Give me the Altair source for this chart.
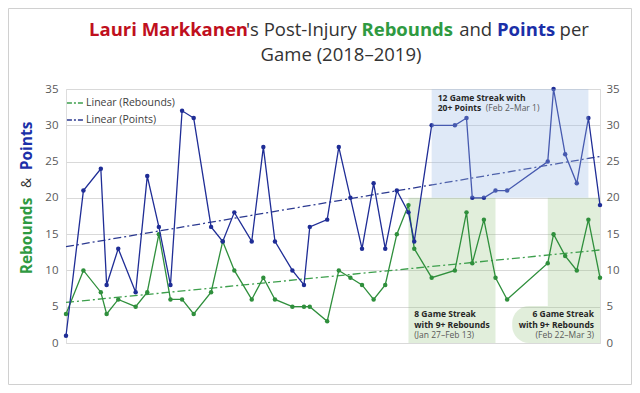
import altair as alt
import pandas as pd
import numpy as np

# ---------------- data ----------------
dates = ["2018-12-01", "2018-12-04", "2018-12-07", "2018-12-08", "2018-12-10", "2018-12-13",
         "2018-12-15", "2018-12-17", "2018-12-19", "2018-12-21", "2018-12-23", "2018-12-26",
         "2018-12-28", "2018-12-30", "2019-01-02", "2019-01-04", "2019-01-06", "2019-01-09",
         "2019-01-11", "2019-01-12", "2019-01-15", "2019-01-17", "2019-01-19", "2019-01-21",
         "2019-01-23", "2019-01-25", "2019-01-27", "2019-01-29", "2019-01-30", "2019-02-02",
         "2019-02-06", "2019-02-08", "2019-02-09", "2019-02-11", "2019-02-13", "2019-02-15",
         "2019-02-22", "2019-02-23", "2019-02-25", "2019-02-27", "2019-03-01", "2019-03-03"]
points = [1, 21, 24, 8, 13, 7, 23, 16, 8, 32, 31, 16, 14, 18, 14, 27, 14, 10, 8, 16, 17,
          27, 20, 13, 22, 13, 21, 18, 14, 30, 30, 31, 20, 20, 21, 21, 25, 35, 26, 22, 31, 19]
rebounds = [4, 10, 7, 4, 6, 5, 7, 15, 6, 6, 4, 7, 14, 10, 6, 9, 6, 5, 5, 5, 3,
            10, 9, 8, 6, 8, 15, 19, 13, 9, 10, 18, 11, 17, 9, 6, 11, 15, 12, 10, 17, 9]

tick_dates = ["2018-12-01", "2018-12-16", "2018-12-31", "2019-01-15", "2019-01-30",
              "2019-02-14", "2019-03-01"]
y_ticks = [0, 5, 10, 15, 20, 25, 30, 35]

# shaded streak periods
green_starts = ["2019-01-29", "2019-02-22"]
green_ends = ["2019-02-13", "2019-03-03"]
green_low, green_high = 0, 20
blue_start, blue_end = "2019-02-02", "2019-03-01"
blue_low, blue_high = 20, 35
pill_start, pill_end, pill_high = "2019-02-15T21:00:00", "2019-02-22", 5.1

series_names = ["Linear (Rebounds)", "Linear (Points)"]

# ---------------- styling ----------------
FONT = "Open Sans"
NAVY = "#1f2d96"
GREEN = "#2f8f3c"
TREND_GREEN = "#3d9f4c"
TREND_NAVY = "#2b3990"
RED = "#c0101e"
TITLE_GREEN = "#2f9a41"
TITLE_BLUE = "#1b2fa8"
DARK = "#333333"
GRAY = "#595959"

def ts(d):
    return d if "T" in d else d + "T00:00:00"

df = pd.DataFrame({"date": [ts(d) for d in dates], "points": points, "rebounds": rebounds})

# linear trend lines (least squares over game day numbers)
days = (pd.to_datetime(dates) - pd.Timestamp(dates[0])).days.values.astype(float)
trend_rows = []
for name, vals in zip(series_names, [rebounds, points]):
    slope, icpt = np.polyfit(days, np.array(vals, float), 1)
    for d, dd in [(dates[0], days[0]), (dates[-1], days[-1])]:
        trend_rows.append({"date": ts(d), "value": slope * dd + icpt, "series": name})
trend_df = pd.DataFrame(trend_rows)

green_df = pd.DataFrame({"start": [ts(s) for s in green_starts], "end": [ts(e) for e in green_ends],
                         "lo": [green_low] * 2, "hi": [green_high] * 2})
blue_df = pd.DataFrame({"start": [ts(blue_start)], "end": [ts(blue_end)],
                        "lo": [blue_low], "hi": [blue_high]})
pill_df = pd.DataFrame({"start": [ts(pill_start)], "end": [ts(pill_end)], "lo": [0], "hi": [pill_high]})

def dt(s):
    y, m, d = s.split("-")
    return alt.DateTime(year=int(y), month=int(m), date=int(d))

xscale = alt.Scale(domain=[dt(dates[0]), dt(dates[-1])], nice=False)
yscale = alt.Scale(domain=[0, 35], nice=False)

x_axis = alt.Axis(values=[dt(t) for t in tick_dates], format="%-d-%b-%y", labelFontStyle="italic",
                  labelFontSize=11, labelColor=GRAY, labelFont=FONT, ticks=False, domain=False,
                  grid=False, labelPadding=5, title="Time", titleFontSize=12.5,
                  titleFontWeight="normal", titleColor="#404040", titleFont=FONT, titlePadding=7,
                  labelOverlap=False)
y_left = alt.Axis(values=y_ticks, grid=True, gridColor="#d9d9d9", domain=False, ticks=False,
                  labelFontSize=11.5, labelColor=GRAY, labelFont=FONT, labelPadding=8, title=None)
y_right = alt.Axis(values=y_ticks, orient="right", grid=False, domain=False, ticks=False,
                   labelFontSize=11.5, labelColor=GRAY, labelFont=FONT, labelPadding=6, title=None)

W, H = 534, 254

green_rects = alt.Chart(green_df).mark_rect(color="#8fc27a", opacity=0.27).encode(
    x=alt.X("start:T", scale=xscale, axis=None), x2="end:T",
    y=alt.Y("lo:Q", scale=yscale, axis=None), y2="hi:Q")

pill = alt.Chart(pill_df).mark_rect(color="#8fc27a", opacity=0.27, cornerRadiusTopLeft=17,
                                    cornerRadiusBottomLeft=17).encode(
    x=alt.X("start:T", scale=xscale, axis=None), x2="end:T",
    y=alt.Y("lo:Q", scale=yscale, axis=None), y2="hi:Q")

trend = alt.Chart(trend_df).mark_line(strokeWidth=1.3, strokeDash=[8, 3, 2, 3]).encode(
    x=alt.X("date:T", scale=xscale, axis=None),
    y=alt.Y("value:Q", scale=yscale, axis=None),
    color=alt.Color("series:N",
                    scale=alt.Scale(domain=series_names, range=[TREND_GREEN, TREND_NAVY]),
                    legend=alt.Legend(orient="none", legendX=0, legendY=5, title=None,
                                      symbolType="stroke", symbolSize=260,
                                      symbolDash=[5, 2, 2, 2], symbolStrokeWidth=1.4,
                                      labelFont=FONT, labelFontSize=10.5, labelColor="#404040",
                                      rowPadding=2, labelOffset=2, padding=0)),
    detail="series:N")

reb_line = alt.Chart(df).mark_line(color=GREEN, strokeWidth=1.3,
                                   point=alt.OverlayMarkDef(color=GREEN, size=20, filled=True)).encode(
    x=alt.X("date:T", scale=xscale, axis=None),
    y=alt.Y("rebounds:Q", scale=yscale, axis=y_right))

pts_line = alt.Chart(df).mark_line(color=NAVY, strokeWidth=1.3,
                                   point=alt.OverlayMarkDef(color=NAVY, size=20, filled=True)).encode(
    x=alt.X("date:T", scale=xscale, axis=x_axis),
    y=alt.Y("points:Q", scale=yscale, axis=y_left))

blue_rect = alt.Chart(blue_df).mark_rect(color="#9dbbe6", opacity=0.32).encode(
    x=alt.X("start:T", scale=xscale, axis=None), x2="end:T",
    y=alt.Y("lo:Q", scale=yscale, axis=None), y2="hi:Q")

one = alt.Data(values=[{"k": 1}])

def txt(text, x, y, size, color, weight="normal", align="left", angle=0, baseline="middle"):
    kw = dict(text=text, fontSize=size, color=color, fontWeight=weight, align=align,
              baseline=baseline, font=FONT)
    if angle:
        kw["angle"] = angle
    return alt.Chart(one).mark_text(**kw).encode(x=alt.value(x), y=alt.value(y))

TS = 18.5
TY = -59.5
AS = 8.5
texts = [
    # title
    txt("Lauri Markkanen", 23, TY, TS, RED, "bold"),
    txt("'s Post-Injury", 180, TY, TS, DARK),
    txt("Rebounds", 295.5, TY, TS, TITLE_GREEN, "bold"),
    txt("and", 393.2, TY, TS, DARK),
    txt("Points", 431, TY, TS, TITLE_BLUE, "bold"),
    txt("per", 493.6, TY, TS, DARK),
    txt("Game (2018–2019)", 275, -34.5, TS, DARK, align="center"),
    # y axis title
    txt("Rebounds", -39, 147, 15.5, TITLE_GREEN, "bold", align="center", angle=270),
    txt("&", -39, 94, 14, DARK, align="center", angle=270),
    txt("Points", -39, 57, 15.5, TITLE_BLUE, "bold", align="center", angle=270),
    # 20+ points annotation
    txt("12 Game Streak with", 371.7, 8.8, AS, "#262626", "bold"),
    txt("20+ Points", 371.7, 19.4, AS, "#262626", "bold"),
    txt("(Feb 2–Mar 1)", 419.8, 19.4, AS, GRAY),
    # 8 game rebound streak
    txt("8 Game Streak", 348.3, 225, AS, "#262626", "bold"),
    txt("with 9+ Rebounds", 348.3, 235.5, AS, "#262626", "bold"),
    txt("(Jan 27–Feb 13)", 348.3, 246.3, AS, GRAY),
    # 6 game rebound streak
    txt("6 Game Streak", 528, 225, AS, "#262626", "bold", align="right"),
    txt("with 9+ Rebounds", 528, 235.5, AS, "#262626", "bold", align="right"),
    txt("(Feb 22–Mar 3)", 528, 246.3, AS, GRAY, align="right"),
]

border = alt.Chart(one).mark_rect(fill="transparent", stroke="#d0d0d0", strokeWidth=1).encode(
    x=alt.value(-57.5), x2=alt.value(565.5), y=alt.value(-80.5), y2=alt.value(295.5))

chart = alt.layer(green_rects, pill, trend, reb_line, pts_line, blue_rect, *texts, border).resolve_scale(
    y="independent").properties(
    width=W, height=H,
    autosize=alt.AutoSizeParams(type="none"),
    padding={"left": 58, "top": 81, "right": 32, "bottom": 42},
    background="white",
).configure_view(stroke=None).configure(font=FONT)

chart.save("out.html", embed_options={"renderer": "svg", "actions": False})
